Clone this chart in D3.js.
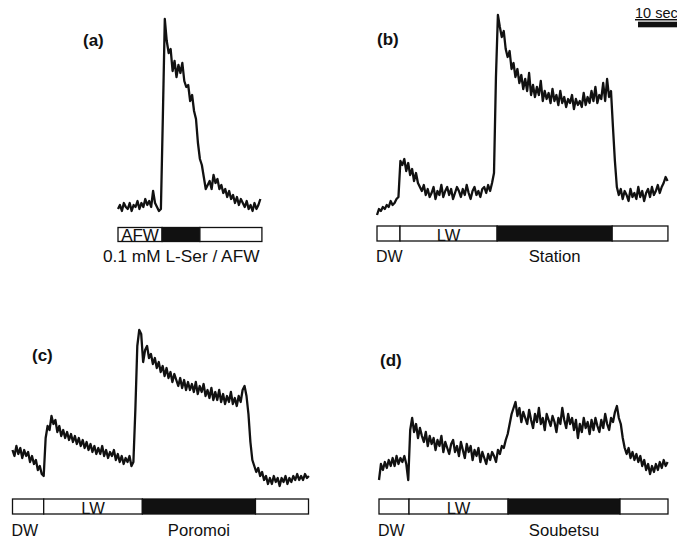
<!DOCTYPE html>
<html><head><meta charset="utf-8">
<script src="https://cdn.jsdelivr.net/npm/d3@7"></script>
<style>body{margin:0;background:#fff;}svg{display:block;}</style>
</head><body>
<svg id="c" width="677" height="539"></svg>
<script>
// sampling interval of the traces (seconds)
const dt = 0.5;
// responses (arbitrary units) sampled every dt seconds
const traceA = [4,6,3,7,5,4,7,3,6,5, 8,4,7,5,9,6,8,5,13,7, 5,3,4,50,99,88,82,84,73,78, 70,76,72,77,68,65,66,58,61,53, 49,37,29,26,20,14,16,18,14,21, 17,19,14,16,12,14,10,13,9,11, 7,10,6,9,7,5,8,4,6,3, 7,4,6,9];
const traceB = [1,4,3,5,4,6,5,8,6,7,9,10,
  28,26,29,23,27,21,24,18,22,17, 15,13,16,11,14,10,12,15,9,13, 11,16,10,13,15,11,14,9,12,15, 13,10,14,11,16,12,9,13,15,11, 13,10,14,15,12,16,13,17,22,70,
  101,95,90,93,84,80,83,74,77,70, 74,67,71,64,69,63,72,61,66,60, 65,61,68,58,63,59,62,57,64,58, 61,56,63,57,60,55,59,57,61,54, 59,56,58,55,62,56,60,57,63,58, 65,57,61,59,67,58,69,60,63,45,
  28,15,11,14,9,13,11,8,14,10, 12,9,15,10,13,8,12,14,10,15, 11,13,16,12,15,17,20,18];
const traceC = [20,17,22,18,21,16,20,17,19,14, 17,13,15,10,12,8,7,26,32,30, 37,33,35,29,32,27,30,26,29,25, 28,24,27,23,26,22,25,21,24,20, 23,19,22,18,21,18,22,17,20,16, 19,17,20,15,18,14,17,13,16,14, 17,12,14,40,72,80,78,64,70,72, 66,68,63,66,61,64,59,62,57,61, 56,59,54,58,55,52,56,51,55,50, 54,50,53,49,54,48,52,49,53,47, 50,46,51,45,49,45,50,44,48,43, 47,44,49,43,46,42,47,44,50,52, 47,38,24,15,12,9,11,7,9,5, 7,3,6,3,7,4,6,2,6,4, 7,3,6,4,7,5,8,5,7,5, 8,6,7];
const traceD = [5,13,10,14,11,15,12,16,12,17,13,16,14,17,13,5,
  30,36,29,33,26,31,27,24,29,22, 27,23,26,20,25,22,27,19,24,21, 18,23,25,19,22,17,24,20,16,23, 19,22,15,20,17,21,14,19,16,13, 18,15,19,17,14,20,18,22,21,25, 28,33,38,41,
  44,37,41,34,39,36,33,40,35,31, 38,34,41,33,36,30,38,35,32,37, 34,29,36,33,41,35,31,38,33,36, 30,35,26,33,29,36,31,34,28,35, 30,36,32,29,35,31,38,33,30,36, 34,39,42,36,
  33,26,21,18,21,16,19,15,18,14, 17,12,15,10,13,8,12,9,13,10, 14,11,15,12,14];
// stimulus protocol: segment boundaries (seconds) and fills
const stimA = [0, 11.3, 21.0, 36.9];
const stimB = [0, 5.9, 30.8, 60.3, 74.6];
const stimC = [0, 8.0, 33.3, 62.3, 75.9];
const stimD = [0, 7.7, 33.1, 61.8, 74.1];
const fillsA = ["white","black","white"];
const fillsDLW = ["white","white","black","white"];
const panelLabels = ["(a)","(b)","(c)","(d)"];
const solutionNames = ["0.1 mM L-Ser / AFW","Station","Poromoi","Soubetsu"];
const segLabels = ["AFW","LW"];
const scaleBarSec = 10;
const scaleBarLabel = "10 sec";

const svg = d3.select("#c");
const pxPerSec = 3.9;
const FONT = "'Liberation Sans', Arial, Helvetica, sans-serif";
const INK = "#111";

const panels = [
  {trace: traceA, stim: stimA, fills: fillsA, x0: 118, bottom: 217, barY: 227.5, barH: 14,
   label: panelLabels[0], lx: 83, ly: 46, name: solutionNames[0], kind: "a"},
  {trace: traceB, stim: stimB, fills: fillsDLW, x0: 377, bottom: 217, barY: 226, barH: 15,
   label: panelLabels[1], lx: 377, ly: 45, name: solutionNames[1], nameY: 262, dwY: 262},
  {trace: traceC, stim: stimC, fills: fillsDLW, x0: 12.5, bottom: 490, barY: 499, barH: 15,
   label: panelLabels[2], lx: 32, ly: 361, name: solutionNames[2], nameY: 536, dwY: 536},
  {trace: traceD, stim: stimD, fills: fillsDLW, x0: 379, bottom: 490, barY: 499, barH: 15,
   label: panelLabels[3], lx: 380, ly: 366, name: solutionNames[3], nameY: 536, dwY: 536}
];

panels.forEach(p => {
  const T = p.stim[p.stim.length - 1];
  const x = d3.scaleLinear().domain([0, T]).range([p.x0, p.x0 + T * pxPerSec]);
  const y = d3.scaleLinear().domain([0, 100]).range([p.bottom, p.bottom - 200]);
  const g = svg.append("g");

  const line = d3.line().x((d, i) => x(i * dt)).y(d => y(d));
  g.append("path").datum(p.trace).attr("d", line)
    .attr("fill", "none").attr("stroke", INK).attr("stroke-width", 2.3)
    .attr("stroke-linejoin", "round");

  // stimulus bar
  const segs = p.fills.map((f, i) => ({a: p.stim[i], b: p.stim[i + 1], f}));
  g.selectAll("rect.seg").data(segs).join("rect")
    .attr("x", d => x(d.a)).attr("width", d => x(d.b) - x(d.a))
    .attr("y", p.barY).attr("height", p.barH)
    .attr("fill", d => d.f === "black" ? INK : "#fff").attr("stroke", INK).attr("stroke-width", 1.3);

  g.append("text").text(p.label).attr("x", p.lx).attr("y", p.ly)
    .attr("font-family", FONT).attr("font-weight", "bold").attr("font-size", 17).attr("fill", INK);

  if (p.kind === "a") {
    g.append("text").text(segLabels[0])
      .attr("x", (x(p.stim[0]) + x(p.stim[1])) / 2).attr("y", p.barY + p.barH - 0.5)
      .attr("text-anchor", "middle").attr("font-family", FONT).attr("font-size", 17).attr("fill", INK);
    g.append("text").text(p.name).attr("x", 103).attr("y", 262)
      .attr("font-family", FONT).attr("font-size", 17.3).attr("fill", INK);
  } else {
    const blk = segs[2];
    g.append("text").text(segLabels[1])
      .attr("x", (x(segs[1].a) + x(segs[1].b)) / 2).attr("y", p.barY + p.barH - 0.3)
      .attr("text-anchor", "middle").attr("font-family", FONT).attr("font-size", 16.5).attr("fill", INK);
    g.append("text").text("DW").attr("x", x(0) - 1).attr("y", p.dwY)
      .attr("font-family", FONT).attr("font-size", 16).attr("fill", INK);
    g.append("text").text(p.name).attr("x", (x(blk.a) + x(blk.b)) / 2).attr("y", p.nameY)
      .attr("text-anchor", "middle").attr("font-family", FONT).attr("font-size", 16.7).attr("fill", INK);
  }
});

// 10 sec scale bar (top right)
const sx = d3.scaleLinear().domain([0, scaleBarSec]).range([638, 638 + scaleBarSec * pxPerSec]);
svg.append("rect").attr("x", sx(0)).attr("y", 21.7).attr("width", sx(scaleBarSec) - sx(0)).attr("height", 5.6).attr("fill", INK);
svg.append("text").text(scaleBarLabel).attr("x", 635).attr("y", 18)
  .attr("font-family", FONT).attr("font-size", 14.5).attr("text-decoration", "underline").attr("fill", INK);
</script>
</body></html>
